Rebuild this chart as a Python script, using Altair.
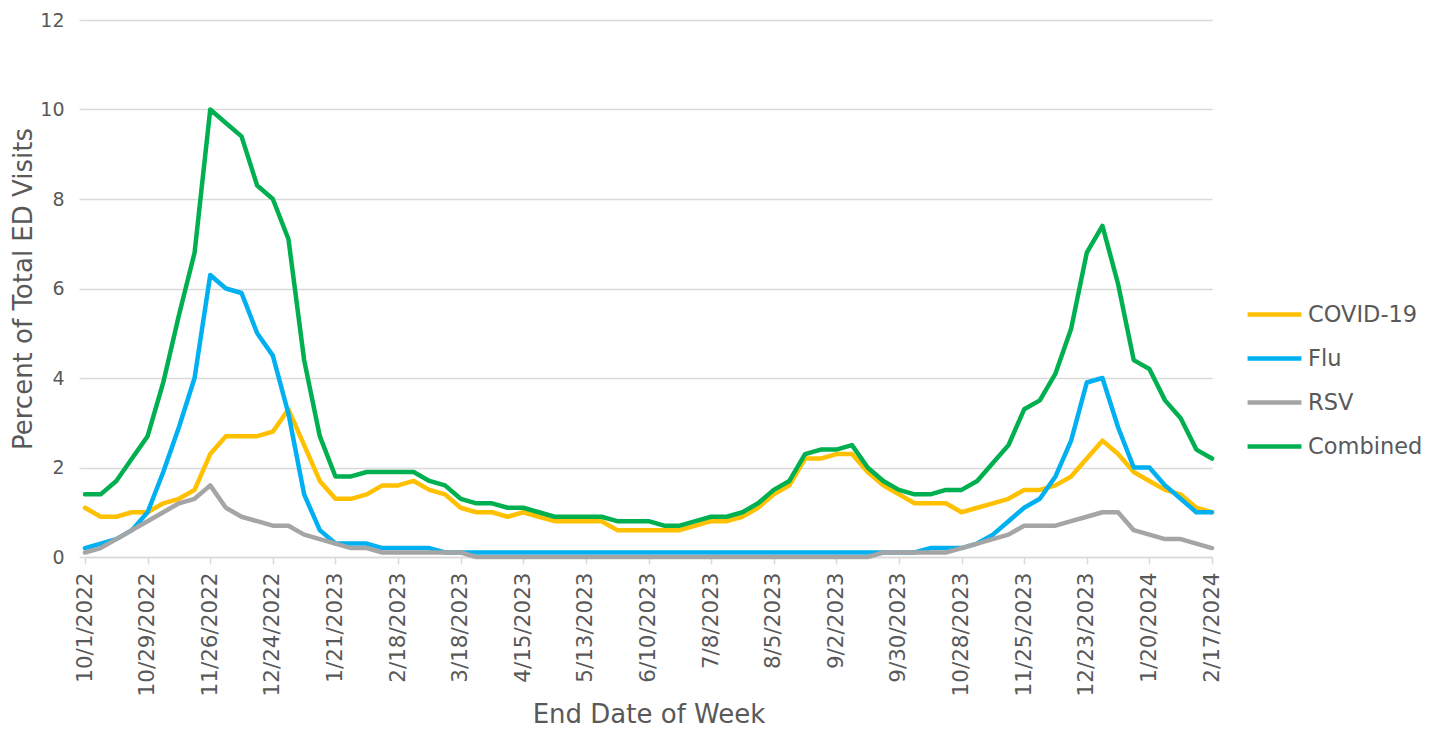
import altair as alt
import pandas as pd

# Weekly end dates: 10/1/2022 .. 2/17/2024 (73 weeks)
week_dates = [d.strftime("%-m/%-d/%Y") for d in pd.date_range("2022-10-01", "2024-02-17", freq="7D")]

tick_labels = ["10/1/2022", "10/29/2022", "11/26/2022", "12/24/2022", "1/21/2023",
               "2/18/2023", "3/18/2023", "4/15/2023", "5/13/2023", "6/10/2023",
               "7/8/2023", "8/5/2023", "9/2/2023", "9/30/2023", "10/28/2023",
               "11/25/2023", "12/23/2023", "1/20/2024", "2/17/2024"]

covid = [1.1, 0.9, 0.9, 1.0, 1.0, 1.2, 1.3, 1.5, 2.3, 2.7,
         2.7, 2.7, 2.8, 3.3, 2.5, 1.7, 1.3, 1.3, 1.4, 1.6,
         1.6, 1.7, 1.5, 1.4, 1.1, 1.0, 1.0, 0.9, 1.0, 0.9,
         0.8, 0.8, 0.8, 0.8, 0.6, 0.6, 0.6, 0.6, 0.6, 0.7,
         0.8, 0.8, 0.9, 1.1, 1.4, 1.6, 2.2, 2.2, 2.3, 2.3,
         1.9, 1.6, 1.4, 1.2, 1.2, 1.2, 1.0, 1.1, 1.2, 1.3,
         1.5, 1.5, 1.6, 1.8, 2.2, 2.6, 2.3, 1.9, 1.7, 1.5,
         1.4, 1.1, 1.0]

flu = [0.2, 0.3, 0.4, 0.6, 1.0, 1.9, 2.9, 4.0, 6.3, 6.0,
       5.9, 5.0, 4.5, 3.2, 1.4, 0.6, 0.3, 0.3, 0.3, 0.2,
       0.2, 0.2, 0.2, 0.1, 0.1, 0.1, 0.1, 0.1, 0.1, 0.1,
       0.1, 0.1, 0.1, 0.1, 0.1, 0.1, 0.1, 0.1, 0.1, 0.1,
       0.1, 0.1, 0.1, 0.1, 0.1, 0.1, 0.1, 0.1, 0.1, 0.1,
       0.1, 0.1, 0.1, 0.1, 0.2, 0.2, 0.2, 0.3, 0.5, 0.8,
       1.1, 1.3, 1.8, 2.6, 3.9, 4.0, 2.9, 2.0, 2.0, 1.6,
       1.3, 1.0, 1.0]

rsv = [0.1, 0.2, 0.4, 0.6, 0.8, 1.0, 1.2, 1.3, 1.6, 1.1,
       0.9, 0.8, 0.7, 0.7, 0.5, 0.4, 0.3, 0.2, 0.2, 0.1,
       0.1, 0.1, 0.1, 0.1, 0.1, 0.0, 0.0, 0.0, 0.0, 0.0,
       0.0, 0.0, 0.0, 0.0, 0.0, 0.0, 0.0, 0.0, 0.0, 0.0,
       0.0, 0.0, 0.0, 0.0, 0.0, 0.0, 0.0, 0.0, 0.0, 0.0,
       0.0, 0.1, 0.1, 0.1, 0.1, 0.1, 0.2, 0.3, 0.4, 0.5,
       0.7, 0.7, 0.7, 0.8, 0.9, 1.0, 1.0, 0.6, 0.5, 0.4,
       0.4, 0.3, 0.2]

combined = [1.4, 1.4, 1.7, 2.2, 2.7, 3.9, 5.4, 6.8, 10.0, 9.7,
            9.4, 8.3, 8.0, 7.1, 4.4, 2.7, 1.8, 1.8, 1.9, 1.9,
            1.9, 1.9, 1.7, 1.6, 1.3, 1.2, 1.2, 1.1, 1.1, 1.0,
            0.9, 0.9, 0.9, 0.9, 0.8, 0.8, 0.8, 0.7, 0.7, 0.8,
            0.9, 0.9, 1.0, 1.2, 1.5, 1.7, 2.3, 2.4, 2.4, 2.5,
            2.0, 1.7, 1.5, 1.4, 1.4, 1.5, 1.5, 1.7, 2.1, 2.5,
            3.3, 3.5, 4.1, 5.1, 6.8, 7.4, 6.1, 4.4, 4.2, 3.5,
            3.1, 2.4, 2.2]

series_names = ["COVID-19", "Flu", "RSV", "Combined"]
series_colors = ["#FFC000", "#00B0F0", "#A5A5A5", "#00B050"]
series_values = [covid, flu, rsv, combined]

rows = []
for k, (name, vals) in enumerate(zip(series_names, series_values)):
    for i, (d, v) in enumerate(zip(week_dates, vals)):
        rows.append({"week": d, "idx": i, "series": name, "order": k, "value": v})
df = pd.DataFrame(rows)

FONT = "DejaVu Sans"
TXT = "#595959"
GRID = "#D9D9D9"

chart = alt.Chart(df).mark_line(strokeWidth=4.5, strokeCap="round", strokeJoin="round").encode(
    x=alt.X("week:O", sort=week_dates,
            scale=alt.Scale(type="point", padding=0),
            axis=alt.Axis(values=tick_labels, labelAngle=-90, title="End Date of Week",
                          labelFontSize=21.5, titleFontSize=26, labelColor=TXT, titleColor=TXT,
                          labelFont=FONT, titleFont=FONT, titleFontWeight="normal",
                          domainColor=GRID, domainWidth=1.5, tickColor=GRID, tickWidth=1.5,
                          tickSize=7, labelPadding=8, titlePadding=6, grid=False,
                          labelBaseline="middle", labelAlign="right")),
    y=alt.Y("value:Q", scale=alt.Scale(domain=[0, 12], nice=False),
            axis=alt.Axis(values=[0, 2, 4, 6, 8, 10, 12], title="Percent of Total ED Visits",
                          labelFontSize=19, titleFontSize=26, labelColor=TXT, titleColor=TXT,
                          labelFont=FONT, titleFont=FONT, titleFontWeight="normal",
                          domain=False, gridColor=GRID, gridWidth=1.5, tickColor=GRID,
                          tickWidth=1.5, tickSize=6, labelPadding=15, titlePadding=3)),
    color=alt.Color("series:N", sort=series_names,
                    scale=alt.Scale(domain=series_names, range=series_colors),
                    legend=alt.Legend(title=None, orient="none", legendX=1160, legendY=265,
                                      symbolType="stroke", symbolSize=2900, symbolStrokeWidth=4.5,
                                      labelFontSize=22.5, labelFont=FONT, labelColor=TXT,
                                      rowPadding=3, labelOffset=4)),
    order=alt.Order("order:Q"),
    detail="series:N",
).properties(
    width=1127, height=537,
    autosize=alt.AutoSizeParams(type="none"),
    padding={"left": 77, "top": 12, "right": 215, "bottom": 174},
).configure_view(stroke=None)

chart.save("out.html", embed_options={"renderer": "svg", "actions": False})
